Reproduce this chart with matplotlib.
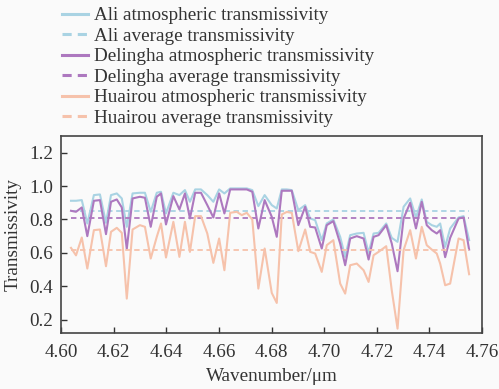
import matplotlib
matplotlib.use("Agg")
import matplotlib.pyplot as plt

plt.rcParams['font.family'] = ['Liberation Serif', 'DejaVu Serif']

wavelength = [4.6038, 4.6057, 4.6079, 4.6100, 4.6125, 4.6148, 4.6171, 4.6190, 4.6212, 4.6231,
              4.6250, 4.6272, 4.6300, 4.6319, 4.6341, 4.6364, 4.6380, 4.6399, 4.6427, 4.6450,
              4.6471, 4.6490, 4.6510, 4.6532, 4.6556, 4.6579, 4.6601, 4.6621, 4.6643, 4.6668,
              4.6687, 4.6706, 4.6727, 4.6750, 4.6774, 4.6801, 4.6820, 4.6839, 4.6858, 4.6877,
              4.6902, 4.6928, 4.6947, 4.6966, 4.6991, 4.7010, 4.7035, 4.7061, 4.7080, 4.7099,
              4.7124, 4.7150, 4.7169, 4.7188, 4.7207, 4.7236, 4.7257, 4.7279, 4.7302, 4.7327,
              4.7349, 4.7371, 4.7390, 4.7409, 4.7428, 4.7441, 4.7460, 4.7479, 4.7511, 4.7530,
              4.7551]

ali = [0.912, 0.912, 0.916, 0.776, 0.946, 0.950, 0.780, 0.946, 0.956, 0.926,
       0.756, 0.956, 0.960, 0.960, 0.846, 0.960, 0.966, 0.836, 0.960, 0.946,
       0.976, 0.906, 0.980, 0.980, 0.946, 0.906, 0.980, 0.956, 0.986, 0.986,
       0.986, 0.986, 0.976, 0.880, 0.946, 0.886, 0.866, 0.980, 0.980, 0.976,
       0.856, 0.886, 0.806, 0.796, 0.676, 0.776, 0.800, 0.696, 0.576, 0.706,
       0.716, 0.720, 0.600, 0.716, 0.720, 0.776, 0.690, 0.666, 0.876, 0.926,
       0.812, 0.920, 0.786, 0.766, 0.756, 0.776, 0.636, 0.746, 0.812, 0.820,
       0.676]

delingha = [0.852, 0.846, 0.872, 0.700, 0.912, 0.916, 0.712, 0.906, 0.920, 0.872,
            0.624, 0.926, 0.936, 0.930, 0.756, 0.936, 0.956, 0.770, 0.940, 0.860,
            0.956, 0.806, 0.960, 0.960, 0.886, 0.812, 0.956, 0.836, 0.980, 0.980,
            0.980, 0.980, 0.966, 0.746, 0.916, 0.816, 0.696, 0.972, 0.972, 0.972,
            0.766, 0.876, 0.756, 0.752, 0.626, 0.766, 0.790, 0.656, 0.526, 0.686,
            0.700, 0.686, 0.560, 0.696, 0.706, 0.766, 0.656, 0.490, 0.806, 0.900,
            0.746, 0.906, 0.766, 0.736, 0.716, 0.736, 0.574, 0.690, 0.806, 0.812,
            0.620]

huairou = [0.630, 0.585, 0.692, 0.506, 0.736, 0.740, 0.520, 0.726, 0.750, 0.720,
           0.326, 0.740, 0.766, 0.756, 0.566, 0.696, 0.776, 0.572, 0.786, 0.576,
           0.786, 0.606, 0.820, 0.820, 0.716, 0.540, 0.686, 0.496, 0.840, 0.846,
           0.826, 0.840, 0.800, 0.386, 0.626, 0.360, 0.300, 0.830, 0.845, 0.840,
           0.610, 0.740, 0.606, 0.596, 0.486, 0.646, 0.676, 0.416, 0.356, 0.526,
           0.536, 0.496, 0.426, 0.586, 0.606, 0.640, 0.376, 0.146, 0.616, 0.736,
           0.566, 0.756, 0.646, 0.620, 0.596, 0.536, 0.406, 0.416, 0.686, 0.676,
           0.472]

averages = {'Ali': 0.852, 'Delingha': 0.810, 'Huairou': 0.616}
series = {'Ali': ali, 'Delingha': delingha, 'Huairou': huairou}
colors = {'Ali': '#a9d3e3', 'Delingha': '#ad78bf', 'Huairou': '#f6c2ab'}

xticks = [4.60, 4.62, 4.64, 4.66, 4.68, 4.70, 4.72, 4.74, 4.76]
yticks = [0.2, 0.4, 0.6, 0.8, 1.0, 1.2]

fs = 13.8
bg = '#fafafa'
fig = plt.figure(figsize=(4.99, 3.89), dpi=100, facecolor=bg)
ax = fig.add_axes([61/499, 1 - 333/389, (482 - 61)/499, (333 - 136)/389], facecolor=bg)

handles = []
for name in ['Ali', 'Delingha', 'Huairou']:
    c = colors[name]
    l1, = ax.plot(wavelength, series[name], color=c, lw=1.5,
                  label=f'{name} atmospheric transmissivity')
    l2, = ax.plot([wavelength[0], wavelength[-1]], [averages[name]] * 2, color=c, lw=1.3,
                  ls=(0, (3, 2)), label=f'{name} average transmissivity')
    handles += [l1, l2]

ax.set_xlim(4.60, 4.76)
ax.set_ylim(0.12, 1.30)
ax.set_xticks(xticks)
ax.set_xticklabels([f'{v:.2f}' for v in xticks])
ax.set_yticks(yticks)
ax.set_yticklabels([f'{v:.1f}' for v in yticks])
ax.tick_params(direction='in', length=4, width=1, labelsize=fs, colors='#333333',
               labelcolor='#333333')
ax.tick_params(axis='x', pad=8)
ax.tick_params(axis='y', pad=6)
for s in ax.spines.values():
    s.set_color('#444444')
    s.set_linewidth(1.2)
ax.set_xlabel('Wavenumber/μm', fontsize=fs, color='#333333', labelpad=5)
ax.set_ylabel('Transmissivity', fontsize=fs, color='#333333', labelpad=5)

leg = fig.legend(handles=handles, loc='upper left', bbox_to_anchor=(62/499, 0.982),
                 frameon=False, fontsize=fs, handlelength=1.35, handletextpad=0.3,
                 labelspacing=0.16, borderpad=0, borderaxespad=0)
for t in leg.get_texts():
    t.set_color('#333333')
for h in leg.legend_handles:
    h.set_linewidth(2.2)

fig.savefig('out.png', dpi=100, facecolor=bg)
